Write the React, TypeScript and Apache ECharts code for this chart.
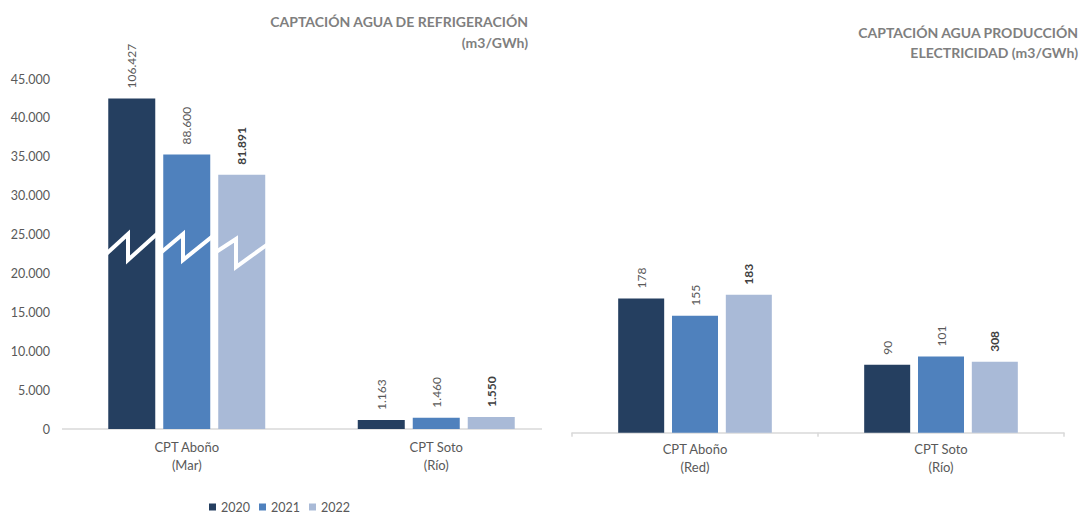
import React, { useEffect, useRef } from "react";
import * as echarts from "echarts";

// ---- data ----
const years = ["2020", "2021", "2022"];
const refrigCategories = ["CPT Aboño\n(Mar)", "CPT Soto\n(Río)"];
const prodCategories = ["CPT Aboño\n(Red)", "CPT Soto\n(Río)"];

// labelled values (m3/GWh)
const refrigValues2020 = [106427, 1163];
const refrigValues2021 = [88600, 1460];
const refrigValues2022 = [81891, 1550];
// drawn bar heights (broken axis in the original)
const refrigHeights2020 = [42500, 1163];
const refrigHeights2021 = [35300, 1460];
const refrigHeights2022 = [32700, 1550];

const prodValues2020 = [178, 90];
const prodValues2021 = [155, 101];
const prodValues2022 = [183, 308];
const prodHeights2020 = [178, 90];
const prodHeights2021 = [155, 101];
const prodHeights2022 = [183, 94];

const refrigAxisMin = 0;
const refrigAxisMax = 45000;
const refrigAxisStep = 5000;
const prodAxisMax = 400;

const colors = ["#253F60", "#4F81BD", "#A9BAD7"];

const fmt = (v: number) =>
  String(v).replace(/\B(?=(\d{3})+(?!\d))/g, ".");

const FONT = "Lato, 'Open Sans', sans-serif";

export default function App() {
  const ref = useRef<HTMLDivElement>(null);

  useEffect(() => {
    if (!ref.current) return;
    document.body.style.margin = "0";
    const chart = echarts.init(ref.current, undefined, { renderer: "svg" });

    const labelFor = (values: number[], bold: boolean) => ({
      show: true,
      position: "top",
      rotate: 90,
      align: "left",
      verticalAlign: "middle",
      distance: 10,
      fontSize: 12,
      fontFamily: FONT,
      fontWeight: bold ? "bold" : "normal",
      color: bold ? "#404040" : "#595959",
      formatter: (p: any) => fmt(values[p.dataIndex]),
    });

    const leftSets = [
      [refrigHeights2020, refrigValues2020],
      [refrigHeights2021, refrigValues2021],
      [refrigHeights2022, refrigValues2022],
    ];
    const rightSets = [
      [prodHeights2020, prodValues2020],
      [prodHeights2021, prodValues2021],
      [prodHeights2022, prodValues2022],
    ];

    const series: any[] = [];
    leftSets.forEach(([h, v], i) => {
      series.push({
        type: "bar",
        name: years[i],
        xAxisIndex: 0,
        yAxisIndex: 0,
        data: h,
        barWidth: 47,
        barGap: "17%",
        itemStyle: { color: colors[i] },
        label: labelFor(v, i === 2),
      });
    });
    rightSets.forEach(([h, v], i) => {
      series.push({
        type: "bar",
        name: years[i],
        xAxisIndex: 1,
        yAxisIndex: 1,
        data: h,
        barWidth: 46,
        barGap: "17%",
        itemStyle: { color: colors[i] },
        label: labelFor(v, i === 2),
      });
    });

    const catLabel = (margin: number) => ({
      interval: 0,
      fontSize: 13,
      fontFamily: FONT,
      color: "#595959",
      lineHeight: 18,
      margin,
    });

    const titleStyle = {
      fontSize: 14,
      fontWeight: "bold",
      fontFamily: FONT,
      fill: "#7F7F7F",
      align: "right",
      verticalAlign: "middle",
    };

    chart.setOption({
      animation: false,
      textStyle: { fontFamily: FONT },
      legend: {
        data: years,
        left: 209,
        top: 500,
        padding: 0,
        itemWidth: 7,
        itemHeight: 7,
        itemGap: 9,
        icon: "rect",
        textStyle: { fontSize: 12.5, color: "#595959", fontFamily: FONT, lineHeight: 14 },
      },
      grid: [
        { left: 62, top: 79, width: 499, height: 350 },
        { left: 572, top: 131, width: 492, height: 301.7 },
      ],
      xAxis: [
        {
          type: "category",
          gridIndex: 0,
          data: refrigCategories,
          axisLine: { show: false },
          axisTick: { show: false },
          axisLabel: catLabel(9),
        },
        {
          type: "category",
          gridIndex: 1,
          data: prodCategories,
          axisLine: { show: true, lineStyle: { color: "#D9D9D9", width: 1.5 } },
          axisTick: { show: true, length: 4, lineStyle: { color: "#D9D9D9", width: 1.5 } },
          axisLabel: catLabel(7),
        },
      ],
      yAxis: [
        {
          type: "value",
          gridIndex: 0,
          min: refrigAxisMin,
          max: refrigAxisMax,
          interval: refrigAxisStep,
          splitLine: { show: false },
          axisLine: { show: false },
          axisTick: { show: false },
          axisLabel: {
            fontSize: 12.5,
            fontFamily: FONT,
            color: "#595959",
            margin: 12,
            formatter: (v: number) => fmt(v),
          },
        },
        {
          type: "value",
          gridIndex: 1,
          min: 0,
          max: prodAxisMax,
          show: false,
          splitLine: { show: false },
        },
      ],
      series,
      graphic: [
        {
          type: "line",
          shape: { x1: 62, y1: 429, x2: 542, y2: 429 },
          style: { stroke: "#D9D9D9", lineWidth: 1.5 },
          z: 1,
        },
        {
          type: "polyline",
          shape: {
            points: [
              [104, 256], [128, 234], [128, 260], [158, 233], [158, 255],
              [183, 234], [183, 260], [213, 236], [213, 254], [236, 239],
              [236, 267], [268, 244],
            ],
          },
          style: { stroke: "#FFFFFF", lineWidth: 4, fill: null, lineJoin: "miter" },
          z: 100,
        },
        {
          type: "text",
          x: 528,
          y: 21,
          style: { ...titleStyle, text: "CAPTACIÓN AGUA DE REFRIGERACIÓN" },
        },
        {
          type: "text",
          x: 528,
          y: 42,
          style: { ...titleStyle, text: "(m3/GWh)" },
        },
        {
          type: "text",
          x: 1078,
          y: 32,
          style: { ...titleStyle, text: "CAPTACIÓN AGUA PRODUCCIÓN" },
        },
        {
          type: "text",
          x: 1078,
          y: 52,
          style: { ...titleStyle, text: "ELECTRICIDAD (m3/GWh)" },
        },
      ],
    });

    return () => chart.dispose();
  }, []);

  return (
    <div
      ref={ref}
      style={{ position: "fixed", left: 0, top: 0, width: 1082, height: 517, background: "#fff" }}
    />
  );
}
